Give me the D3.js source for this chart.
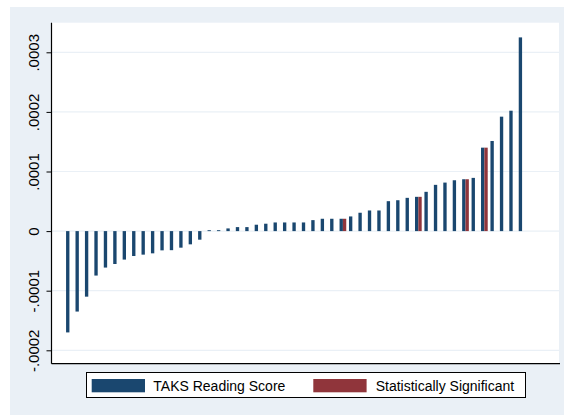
<!DOCTYPE html>
<html>
<head>
<meta charset="utf-8">
<script src="https://cdn.jsdelivr.net/npm/d3@7"></script>
<style>
  html, body { margin: 0; padding: 0; background: #ffffff; }
  svg { display: block; font-family: "Liberation Sans", Arial, sans-serif; }
</style>
</head>
<body>
<svg id="chart" width="564" height="415"></svg>
<script>
// District identifiers, sorted by estimated effect
const districts = [
  1, 2, 3, 4, 5, 6, 7, 8, 9, 10,
  11, 12, 13, 14, 15, 16, 17, 18, 19, 20,
  21, 22, 23, 24, 25, 26, 27, 28, 29, 30,
  31, 32, 33, 34, 35, 36, 37, 38, 39, 40,
  41, 42, 43, 44, 45, 46, 47, 48, 49
];

// Estimated effect on TAKS reading score
const readingScore = [
  -0.000170, -0.000135, -0.000110, -0.0000746, -0.0000612,
  -0.0000552, -0.0000478, -0.0000418, -0.0000395, -0.0000373,
  -0.0000323, -0.0000320, -0.0000278, -0.0000222, -0.0000144,
  0.0000015, 0.0000015, 0.0000045, 0.0000067, 0.0000067,
  0.0000107, 0.0000124, 0.0000145, 0.0000145, 0.0000145,
  0.0000145, 0.0000184, 0.0000207, 0.0000207, 0.0000207,
  0.0000246, 0.0000308, 0.0000346, 0.0000346, 0.0000502,
  0.0000518, 0.0000558, 0.0000575, 0.0000659, 0.0000776,
  0.0000814, 0.0000853, 0.0000870, 0.0000893, 0.000140,
  0.0001512, 0.000192, 0.000202, 0.000325
];

// Same estimate, only where it is statistically significant
const significant = [
  null, null, null, null, null, null, null, null, null, null,
  null, null, null, null, null, null, null, null, null, null,
  null, null, null, null, null, null, null, null, null, 0.0000207,
  null, null, null, null, null, null, null, 0.0000575, null, null,
  null, null, 0.0000870, null, 0.000140, null, null, null, null
];

const yTicks = [-0.0002, -0.0001, 0, 0.0001, 0.0002, 0.0003];
const yTickLabels = ["-.0002", "-.0001", "0", ".0001", ".0002", ".0003"];

const seriesNames = ["TAKS Reading Score", "Statistically Significant"];
const seriesColors = ["#1a476f", "#90353b"];

const svg = d3.select("#chart");
const W = 564, H = 415;

// graph region
svg.append("rect").attr("x", 10).attr("y", 7).attr("width", W - 10).attr("height", H - 7)
  .attr("fill", "#eaf0f6");

// plot region
const plot = { left: 51.5, right: 559, top: 22.7, bottom: 363.7 };
svg.append("rect")
  .attr("x", plot.left).attr("y", plot.top)
  .attr("width", plot.right - plot.left).attr("height", plot.bottom - plot.top)
  .attr("fill", "#ffffff");

const y = d3.scaleLinear().domain([-0.0002, 0.0003]).range([350.3, 52.3]);
const x = d3.scaleBand().domain(districts).range([64.7, 526.8])
  .paddingInner(0.29).paddingOuter(0.145);
const half = x.bandwidth() / 2;

// horizontal grid lines
svg.append("g").selectAll("line").data(yTicks).join("line")
  .attr("x1", plot.left).attr("x2", plot.right)
  .attr("y1", d => y(d)).attr("y2", d => y(d))
  .attr("stroke", "#eaf0f6").attr("stroke-width", 1.2);

// bars
const rows = districts.map((id, i) => ({ id, v: readingScore[i], s: significant[i] }));
svg.append("g").selectAll("rect").data(rows).join("rect")
  .attr("x", d => x(d.id))
  .attr("width", half)
  .attr("y", d => y(Math.max(0, d.v)))
  .attr("height", d => Math.abs(y(d.v) - y(0)))
  .attr("fill", seriesColors[0]);

svg.append("g").selectAll("rect").data(rows.filter(d => d.s !== null)).join("rect")
  .attr("x", d => x(d.id) + half)
  .attr("width", half)
  .attr("y", d => y(Math.max(0, d.s)))
  .attr("height", d => Math.abs(y(d.s) - y(0)))
  .attr("fill", seriesColors[1]);

// y axis
const axis = svg.append("g").attr("transform", `translate(${plot.left},0)`)
  .call(d3.axisLeft(y).tickValues(yTicks).tickSize(5)
    .tickFormat((d, i) => yTickLabels[i]));
axis.select(".domain").remove();
axis.selectAll(".tick line").attr("stroke", "#000").attr("stroke-width", 1);
axis.selectAll(".tick text")
  .attr("transform", "rotate(-90)")
  .attr("x", 0).attr("y", -12.3).attr("dy", 0)
  .attr("text-anchor", "middle")
  .attr("font-size", 15)
  .attr("fill", "#000");

// axis lines
svg.append("line").attr("x1", plot.left).attr("x2", plot.left)
  .attr("y1", plot.top).attr("y2", plot.bottom).attr("stroke", "#000").attr("stroke-width", 1.2);
svg.append("line").attr("x1", plot.left).attr("x2", plot.right + 1)
  .attr("y1", plot.bottom).attr("y2", plot.bottom).attr("stroke", "#000").attr("stroke-width", 1.2);

// legend
const lg = svg.append("g");
lg.append("rect").attr("x", 86.5).attr("y", 372.5).attr("width", 439).attr("height", 25)
  .attr("fill", "#fff").attr("stroke", "#000").attr("stroke-width", 1);
const items = [
  { name: seriesNames[0], color: seriesColors[0], sx: 91.7, tx: 153.3 },
  { name: seriesNames[1], color: seriesColors[1], sx: 313.3, tx: 375.7 }
];
items.forEach(it => {
  lg.append("rect").attr("x", it.sx).attr("y", 379).attr("width", 53.3).attr("height", 13.3)
    .attr("fill", it.color);
  lg.append("text").attr("x", it.tx).attr("y", 390.6)
    .attr("font-size", 14).attr("fill", "#000").text(it.name);
});
</script>
</body>
</html>
